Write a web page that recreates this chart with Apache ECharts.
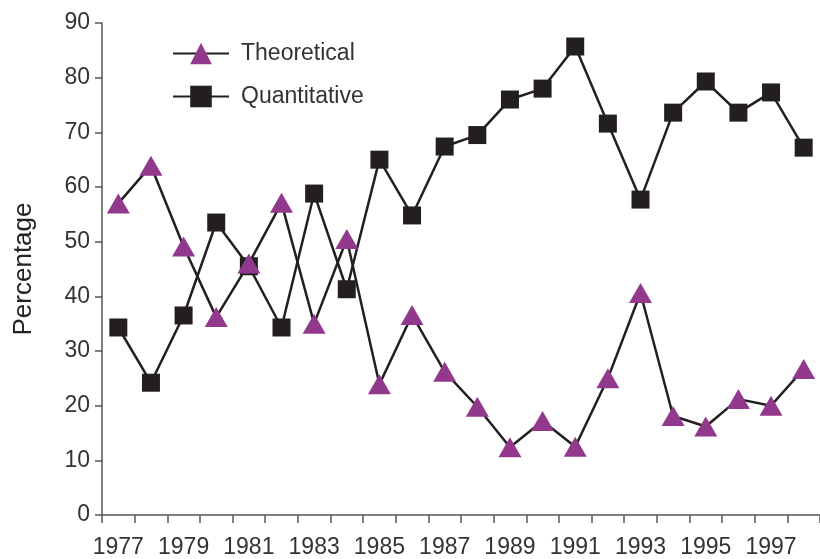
<!DOCTYPE html>
<html>
<head>
<meta charset="utf-8">
<script src="https://cdn.jsdelivr.net/npm/echarts@6/dist/echarts.min.js"></script>
<style>
html,body{margin:0;padding:0;background:#fff;}
#main{width:820px;height:559px;}
</style>
</head>
<body>
<div id="main"></div>
<script>
const years = ['1977','1978','1979','1980','1981','1982','1983','1984','1985','1986','1987','1988','1989','1990','1991','1992','1993','1994','1995','1996','1997','1998'];
const theoretical = [57.0,63.9,49.1,36.2,46.0,57.1,35.0,50.5,23.9,36.6,26.2,19.8,12.4,17.2,12.5,25.0,40.6,18.1,16.2,21.2,20.0,26.7];
const quantitative = [34.3,24.2,36.5,53.5,45.5,34.3,58.8,41.3,65.0,54.8,67.4,69.5,76.0,78.0,85.7,71.6,57.7,73.6,79.3,73.6,77.3,67.2];
const yTicks = {min:0, max:90, interval:10};

const font = 'Liberation Sans';
const chart = echarts.init(document.getElementById('main'));
chart.setOption({
  animation:false,
  backgroundColor:'#fff',
  grid:{left:102, top:23, width:721, height:493, containLabel:false},
  legend:{
    data:['Theoretical','Quantitative'],
    orient:'vertical',
    left:167, top:37,
    itemWidth:56, itemHeight:27, itemGap:20,
    textStyle:{fontFamily:font, fontSize:23, color:'#333', padding:[0,0,0,7]}
  },
  xAxis:{
    type:'category',
    data:years,
    boundaryGap:true,
    axisLine:{lineStyle:{color:'#555', width:1.5}},
    axisTick:{show:true, interval:0, length:8, lineStyle:{color:'#555', width:1.5}},
    axisLabel:{interval:1, fontFamily:font, fontSize:23, color:'#333', margin:21}
  },
  yAxis:{
    type:'value',
    min:yTicks.min, max:yTicks.max, interval:yTicks.interval,
    name:'Percentage',
    nameLocation:'middle',
    nameGap:65,
    nameTextStyle:{fontFamily:font, fontSize:26, color:'#222'},
    axisLine:{show:true, lineStyle:{color:'#555', width:1.5}},
    axisTick:{show:true, length:7, lineStyle:{color:'#555', width:1.5}},
    splitLine:{show:false},
    axisLabel:{fontFamily:font, fontSize:23, color:'#333', margin:12}
  },
  series:[
    {
      name:'Quantitative', type:'line', data:quantitative,
      symbol:'rect', symbolSize:18,
      itemStyle:{color:'#231f20'},
      lineStyle:{color:'#231f20', width:2.5},
      z:2
    },
    {
      name:'Theoretical', type:'line', data:theoretical,
      symbol:'triangle', symbolSize:[23,20],
      itemStyle:{color:'#93398d'},
      lineStyle:{color:'#231f20', width:2.5},
      z:3
    }
  ]
});
</script>
</body>
</html>
